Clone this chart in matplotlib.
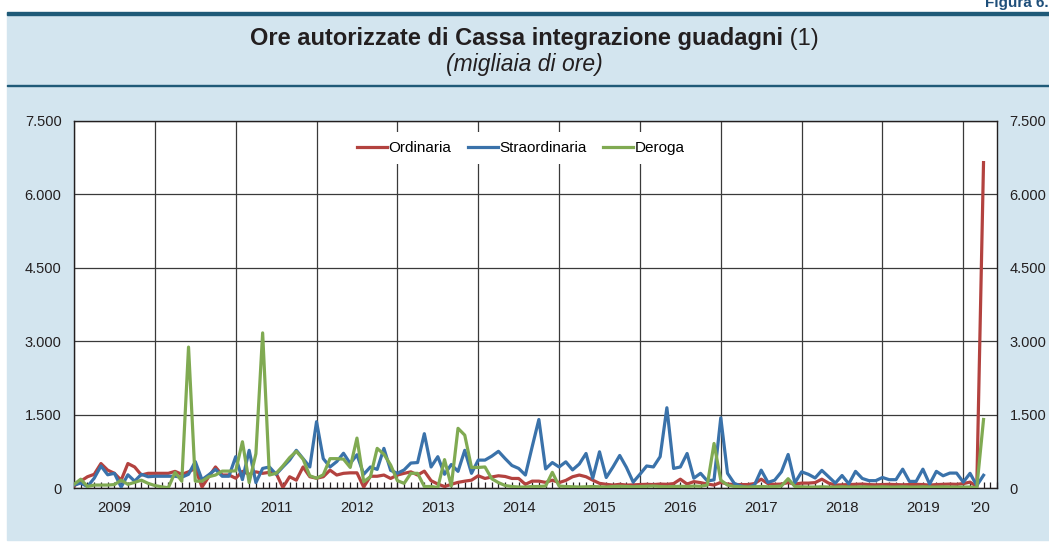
import numpy as np
import matplotlib
matplotlib.use("Agg")
import matplotlib.pyplot as plt
from matplotlib.patches import Rectangle
from matplotlib.ticker import FixedLocator, FuncFormatter
from matplotlib.transforms import blended_transform_factory

plt.rcParams["font.family"] = ["Liberation Sans", "DejaVu Sans"]

# monthly data, Jan 2009 - Apr 2020 (thousands of hours)
ordinaria = [
    40, 140, 230, 280, 500, 365, 300, 160, 500, 430, 265, 300,
    300, 300, 300, 340, 280, 330, 400, 20, 230, 430, 265, 265,
    200, 340, 280, 330, 300, 320, 300, 10, 230, 160, 430, 230,
    200, 230, 365, 265, 300, 310, 310, 20, 240, 240, 265, 195,
    265, 300, 330, 265, 345, 150, 80, 30, 75, 115, 140, 160,
    250, 195, 225, 250, 235, 195, 195, 75, 140, 140, 115, 160,
    110, 155, 230, 265, 230, 160, 95, 75, 60, 75, 60, 65,
    70, 75, 70, 80, 75, 90, 180, 80, 130, 110, 80, 60,
    115, 80, 70, 70, 70, 90, 180, 90, 75, 80, 110, 80,
    100, 100, 110, 180, 100, 60, 65, 70, 75, 80, 70, 65,
    70, 75, 70, 65, 70, 75, 70, 60, 70, 75, 80, 75,
    90, 120, 30, 6650,
]
straordinaria = [
    60, 100, 30, 200, 450, 270, 300, 20, 270, 140, 280, 230,
    240, 240, 240, 240, 220, 280, 540, 170, 270, 380, 240, 240,
    640, 170, 770, 110, 400, 430, 280, 430, 570, 770, 600, 430,
    1355, 600, 430, 540, 710, 500, 680, 280, 430, 380, 810, 360,
    300, 370, 510, 520, 1110, 430, 640, 280, 480, 340, 770, 300,
    570, 570, 650, 750, 600, 460, 400, 265, 840, 1400, 390, 520,
    430, 535, 370, 490, 705, 200, 740, 215, 430, 665, 420, 120,
    280, 450, 430, 640, 1640, 400, 430, 705, 200, 300, 145, 165,
    1435, 300, 95, 40, 10, 60, 365, 115, 160, 330, 685, 105,
    330, 280, 205, 360, 230, 100, 255, 85, 340, 195, 150, 150,
    215, 170, 170, 385, 135, 135, 385, 80, 340, 250, 305, 305,
    120, 300, 50, 260,
]
deroga = [
    75, 180, 30, 60, 60, 60, 70, 160, 75, 115, 160, 95,
    50, 25, 5, 320, 140, 2880, 140, 140, 230, 265, 345, 345,
    350, 945, 110, 700, 3170, 265, 300, 450, 620, 750, 590, 250,
    200, 270, 600, 600, 590, 420, 1020, 130, 230, 810, 690, 470,
    150, 95, 300, 300, 30, 30, 10, 580, 40, 1220, 1080, 420,
    420, 430, 190, 110, 50, 30, 20, 20, 30, 30, 40, 320,
    40, 30, 25, 20, 25, 30, 25, 20, 30, 35, 30, 25,
    30, 35, 40, 30, 25, 30, 35, 30, 40, 35, 60, 910,
    160, 60, 30, 25, 20, 25, 30, 25, 30, 40, 190, 30,
    25, 20, 20, 25, 20, 20, 25, 20, 20, 25, 20, 20,
    25, 20, 20, 25, 20, 20, 25, 20, 20, 25, 20, 20,
    20, 20, 5, 1400,
]
year_labels = ["2009", "2010", "2011", "2012", "2013", "2014", "2015",
               "2016", "2017", "2018", "2019", "'20"]
series_names = ["Ordinaria", "Straordinaria", "Deroga"]
series_colors = ["#b3423f", "#3a72aa", "#80aa52"]

W, H = 1049, 547
fig = plt.figure(figsize=(W / 100, H / 100), dpi=100)
fig.patch.set_facecolor("white")

# light blue panel and the two dark rules (behind the axes)
panel_bg = "#d3e5ef"
rule = "#1f5a78"
fig.patches.append(Rectangle((7 / W, 1 - 540 / H), (W - 7) / W, (540 - 13) / H,
                             transform=fig.transFigure, color=panel_bg, zorder=-3))
fig.patches.append(Rectangle((7 / W, 1 - 15 / H), (W - 7) / W, 3 / H,
                             transform=fig.transFigure, color=rule, zorder=-2))
fig.patches.append(Rectangle((7 / W, 1 - 86 / H), (W - 7) / W, 1.3 / H,
                             transform=fig.transFigure, color=rule, zorder=-2))

fig.text(1.0, 1 - 3 / H, "Figura 6.", ha="right", va="center", fontsize=11,
         fontweight="bold", color="#1f4f7a")

# title: bold part + normal "(1)"
t1 = fig.text(0, 1 - 39 / H, "Ore autorizzate di Cassa integrazione guadagni",
              ha="left", va="center", fontsize=17, fontweight="bold", color="#231f20")
t2 = fig.text(0, 1 - 39 / H, " (1)", ha="left", va="center", fontsize=17, color="#231f20")
r = fig.canvas.get_renderer()
w1 = t1.get_window_extent(r).width
w2 = t2.get_window_extent(r).width
x0 = 534 - (w1 + w2) / 2
t1.set_x(x0 / W)
t2.set_x((x0 + w1) / W)
fig.text(524 / W, 1 - 64 / H, "(migliaia di ore)", ha="center", va="center",
         fontsize=16.5, style="italic", color="#231f20")

ax_l, ax_r, ax_t, ax_b = 74, 997, 121, 488
ax = fig.add_axes([ax_l / W, 1 - ax_b / H, (ax_r - ax_l) / W, (ax_b - ax_t) / H])
ax.set_facecolor("white")

months = np.arange(len(ordinaria))
for vals, name, col in zip([ordinaria, straordinaria, deroga], series_names, series_colors):
    ax.plot(months, vals, color=col, lw=2.3, label=name, solid_joinstyle="round", zorder=3)

ax.set_xlim(0, 137)
ax.set_ylim(0, 7500)

ax.yaxis.set_major_locator(FixedLocator(np.arange(0, 7501, 1500)))
ax.yaxis.set_major_formatter(FuncFormatter(lambda v, p: f"{int(v):,}".replace(",", ".")))
ax.tick_params(axis="y", length=0, pad=9, labelsize=10.5, labelright=True,
               labelcolor="#231f20")

year_starts = np.arange(0, 133, 12)
ax.xaxis.set_major_locator(FixedLocator(year_starts))
ax.xaxis.set_minor_locator(FixedLocator(np.arange(0, 138, 1)))
ax.tick_params(axis="x", which="both", direction="in", length=4, width=0.9,
               labelbottom=False, color="#231f20")

ax.grid(True, which="major", color="#3a3a3a", lw=0.9)
ax.set_axisbelow(True)
for s in ax.spines.values():
    s.set_color("#231f20")
    s.set_linewidth(1.0)

trans = blended_transform_factory(ax.transData, ax.transAxes)
for k, lab in enumerate(year_labels):
    xc = k * 12 + 6 if k < 11 else 132 + 2.5
    ax.text(xc, -0.055, lab, transform=trans, ha="center", va="center",
            fontsize=10.8, color="#231f20")

leg = ax.legend(loc="center", bbox_to_anchor=(0.484, 0.926), ncol=3, fontsize=11,
                frameon=True, fancybox=False, handlelength=1.95, columnspacing=1.1,
                handletextpad=0.1, borderpad=0.6)
leg.get_frame().set_facecolor("white")
leg.get_frame().set_edgecolor("none")
leg.get_frame().set_alpha(1.0)

fig.savefig("out.png", dpi=100)
